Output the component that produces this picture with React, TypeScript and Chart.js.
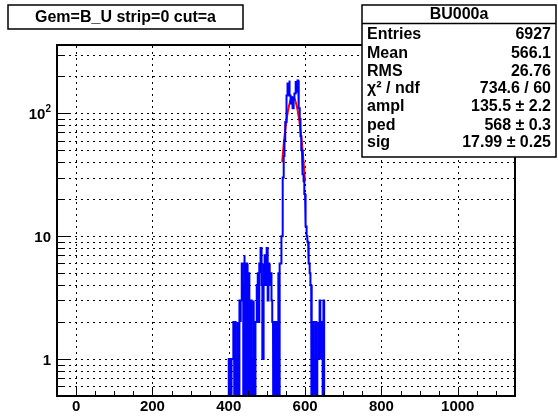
import { useEffect, useRef } from "react";
import { Chart, registerables } from "chart.js";

Chart.register(...registerables);

// ---- data ----
const histStart = 400;
const binWidth = 2;
const counts = [
  1, 0, 1, 0, 1,
  1, 2, 0, 2, 1, 0, 2, 1, 0,
  3, 2, 3, 6, 4,
  0, 7, 5, 0, 6, 3, 0, 5, 2, 0, 3, 1, 0, 3, 2, 0, 2,
  3, 4, 5, 2, 6, 5, 8, 4, 1, 6, 5, 7, 4, 5, 8, 3, 6, 5, 4, 5, 3, 2,
  0, 2, 0, 2, 1, 0, 2, 5, 0, 6,
  6, 10, 18, 30, 45, 60, 85, 110, 140, 175, 150, 185, 140, 120, 135, 125, 110, 130, 145, 160,
  180, 150, 185, 130, 110, 90, 65, 50, 40, 32, 28, 22, 14, 12, 10, 9, 8, 6, 5, 4, 2,
  0, 2, 0, 1, 0, 2, 0,
  1, 2, 1, 3, 2, 1, 2, 0, 3,
];
const fitX = [540, 544, 548, 552, 556, 560, 564, 568, 572, 576, 580, 584, 588, 592, 596, 600];
const fitY = [40, 56, 73, 91, 108, 122, 132, 135.5, 132, 122, 108, 91, 73, 56, 40, 28];

const xMin = -50;
const xMax = 1150;
const yMin = 0.5;
const yMax = 360;
const xTickValues = [0, 200, 400, 600, 800, 1000];
const xTickLabels = ["0", "200", "400", "600", "800", "1000"];
const yTickValues = [1, 10, 100];
const yTickBases = ["1", "10", "10"];
const yTickExps = ["", "", "2"];

const titleText = "Gem=B_U strip=0 cut=a";
const statsTitle = "BU000a";
const statNames = ["Entries", "Mean", "RMS", "χ² / ndf", "ampl", "ped", "sig"];
const statValues = ["6927", "566.1", "26.76", "734.6 / 60", "135.5 ± 2.2", "568 ± 0.3", "17.99 ± 0.25"];

const FONT = "'Liberation Sans', Arial, Helvetica, sans-serif";

export default function App() {
  const ref = useRef<HTMLCanvasElement | null>(null);

  useEffect(() => {
    const canvas = ref.current;
    if (!canvas) return;

    const histPts: { x: number; y: number }[] = [];
    const low = yMin * 0.05;
    histPts.push({ x: histStart, y: low });
    counts.forEach((c, i) => {
      const x0 = histStart + i * binWidth;
      const v = c > 0 ? c : low;
      histPts.push({ x: x0, y: v });
      histPts.push({ x: x0 + binWidth, y: v });
    });
    histPts.push({ x: histStart + counts.length * binWidth, y: low });

    const fitPts = fitX.map((x, i) => ({ x, y: fitY[i] }));

    const minorLogValues: { v: number; major: boolean }[] = [];
    for (let e = -1; e <= 3; e++) {
      for (let m = 1; m <= 9; m++) {
        const v = m * Math.pow(10, e);
        if (v > yMin && v < yMax) minorLogValues.push({ v, major: m === 1 });
      }
    }

    const rootPlugin = {
      id: "rootStyle",
      beforeDraw(chart: any) {
        const { ctx } = chart;
        ctx.save();
        ctx.fillStyle = "#ffffff";
        ctx.fillRect(0, 0, chart.width, chart.height);
        ctx.restore();
      },
      beforeDatasetsDraw(chart: any) {
        const { ctx, chartArea: a, scales } = chart;
        const xs = scales.x;
        const ys = scales.y;
        ctx.save();
        ctx.strokeStyle = "#000";
        ctx.lineWidth = 1;
        ctx.setLineDash([2, 4]);
        xTickValues.forEach((v) => {
          const px = Math.round(xs.getPixelForValue(v)) + 0.5;
          ctx.beginPath();
          ctx.moveTo(px, a.bottom);
          ctx.lineTo(px, a.top);
          ctx.stroke();
        });
        minorLogValues.forEach(({ v }) => {
          const py = Math.round(ys.getPixelForValue(v)) + 0.5;
          ctx.beginPath();
          ctx.moveTo(a.left, py);
          ctx.lineTo(a.right, py);
          ctx.stroke();
        });
        ctx.restore();
      },
      afterDatasetsDraw(chart: any) {
        const { ctx, chartArea: a, scales } = chart;
        const xs = scales.x;
        const ys = scales.y;
        ctx.save();
        ctx.strokeStyle = "#000";
        ctx.lineWidth = 1;
        ctx.setLineDash([]);
        // x ticks
        for (let v = 0; v <= 1100; v += 50) {
          const px = Math.round(xs.getPixelForValue(v)) + 0.5;
          const len = v % 200 === 0 && v <= 1000 ? 9 : 5;
          ctx.beginPath();
          ctx.moveTo(px, a.bottom);
          ctx.lineTo(px, a.bottom - len);
          ctx.stroke();
        }
        // y ticks
        minorLogValues.forEach(({ v, major }) => {
          const py = Math.round(ys.getPixelForValue(v)) + 0.5;
          const len = major ? 12 : 7;
          ctx.beginPath();
          ctx.moveTo(a.left, py);
          ctx.lineTo(a.left + len, py);
          ctx.stroke();
        });
        // frame
        ctx.lineWidth = 2;
        ctx.strokeRect(a.left, a.top, a.right - a.left, a.bottom - a.top);

        // axis labels
        ctx.fillStyle = "#000";
        ctx.font = `bold 15px ${FONT}`;
        ctx.textAlign = "center";
        ctx.textBaseline = "alphabetic";
        xTickValues.forEach((v, i) => {
          ctx.fillText(xTickLabels[i], xs.getPixelForValue(v), a.bottom + 15);
        });
        yTickValues.forEach((v, i) => {
          const py = ys.getPixelForValue(v);
          const rightX = a.left - 6;
          ctx.textAlign = "right";
          if (yTickExps[i]) {
            ctx.font = `bold 10px ${FONT}`;
            const ew = ctx.measureText(yTickExps[i]).width;
            ctx.fillText(yTickExps[i], rightX, py - 1);
            ctx.font = `bold 15px ${FONT}`;
            ctx.fillText(yTickBases[i], rightX - ew, py + 5.5);
          } else {
            ctx.font = `bold 15px ${FONT}`;
            ctx.fillText(yTickBases[i], rightX, py + 5.5);
          }
        });
        ctx.restore();
      },
      afterDraw(chart: any) {
        const { ctx } = chart;
        ctx.save();
        // title box
        ctx.fillStyle = "#fff";
        ctx.fillRect(8, 5, 235, 24);
        ctx.strokeStyle = "#000";
        ctx.lineWidth = 1.5;
        ctx.strokeRect(8, 5, 235, 24);
        ctx.fillStyle = "#000";
        ctx.font = `bold 16px ${FONT}`;
        ctx.textAlign = "center";
        ctx.textBaseline = "middle";
        ctx.fillText(titleText, 125.5, 17.5);

        // stats box
        const bx = 362, by = 5, bw = 194, bh = 152;
        ctx.fillStyle = "#fff";
        ctx.fillRect(bx, by, bw, bh);
        ctx.strokeStyle = "#000";
        ctx.lineWidth = 1.5;
        ctx.strokeRect(bx, by, bw, bh);
        ctx.beginPath();
        ctx.moveTo(bx, 23.5);
        ctx.lineTo(bx + bw, 23.5);
        ctx.stroke();
        ctx.fillStyle = "#000";
        ctx.font = `bold 16px ${FONT}`;
        ctx.textAlign = "center";
        ctx.fillText(statsTitle, bx + bw / 2, 14.5);
        const rowY = [35, 53.5, 71.5, 89, 107, 125.5, 142.5];
        statNames.forEach((n, i) => {
          ctx.textAlign = "left";
          ctx.fillText(n, bx + 5, rowY[i]);
          ctx.textAlign = "right";
          ctx.fillText(statValues[i], bx + bw - 5, rowY[i]);
        });
        ctx.restore();
      },
    };

    const chart = new Chart(canvas, {
      type: "line",
      data: {
        datasets: [
          {
            data: histPts,
            borderColor: "#0000ff",
            borderWidth: 2,
            pointRadius: 0,
            tension: 0,
            fill: false,
          },
          {
            data: fitPts,
            borderColor: "#ff0000",
            borderWidth: 2,
            pointRadius: 0,
            cubicInterpolationMode: "monotone",
            fill: false,
          },
        ],
      },
      options: {
        animation: false,
        responsive: false,
        devicePixelRatio: 1,
        layout: { padding: { left: 0, right: 43, top: 45, bottom: 0 } },
        plugins: {
          legend: { display: false },
          tooltip: { enabled: false },
          title: { display: false },
        },
        scales: {
          x: {
            type: "linear",
            min: xMin,
            max: xMax,
            grid: { display: false },
            border: { display: false },
            ticks: { display: false },
            afterFit: (s: any) => {
              s.height = 21;
            },
          },
          y: {
            type: "logarithmic",
            min: yMin,
            max: yMax,
            grid: { display: false },
            border: { display: false },
            ticks: { display: false },
            afterFit: (s: any) => {
              s.width = 57;
            },
          },
        },
      },
      plugins: [rootPlugin],
    } as any);

    return () => chart.destroy();
  }, []);

  return (
    <div style={{ position: "absolute", left: 0, top: 0, width: 558, height: 417 }}>
      <canvas ref={ref} width={558} height={417} style={{ width: 558, height: 417, display: "block" }} />
    </div>
  );
}
